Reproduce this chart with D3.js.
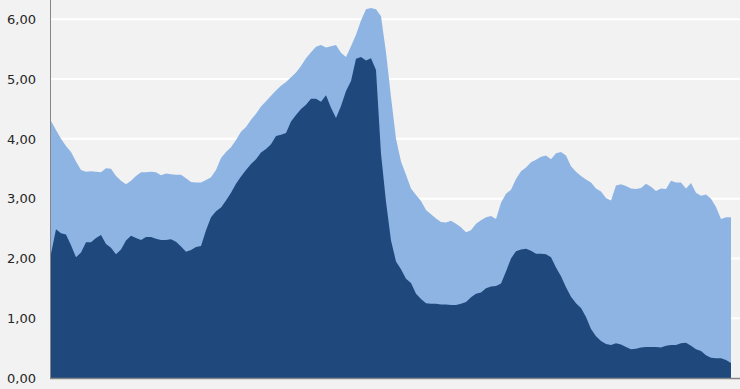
<!DOCTYPE html>
<html lang="en">
<head>
<meta charset="UTF-8">
<title>Area chart</title>
<script src="https://d3js.org/d3.v7.min.js"></script>
<style>
    html, body { margin: 0; padding: 0; background: #f2f2f2; }
    svg { display: block; }
</style>
</head>
<body>
<div id="chart"></div>
<script>
    // light series (upper area), one value per period
    var lightValues = [
        4.30, 4.15, 4.00, 3.88, 3.78, 3.62, 3.48, 3.45, 3.46, 3.45,
        3.44, 3.51, 3.50, 3.38, 3.30, 3.24, 3.30, 3.38, 3.44, 3.44,
        3.45, 3.44, 3.39, 3.42, 3.41, 3.40, 3.40, 3.34, 3.28, 3.27,
        3.27, 3.31, 3.36, 3.48, 3.68, 3.78, 3.86, 3.98, 4.12, 4.20,
        4.32, 4.42, 4.54, 4.63, 4.72, 4.81, 4.89, 4.95, 5.03, 5.11,
        5.22, 5.35, 5.45, 5.54, 5.57, 5.53, 5.55, 5.57, 5.44, 5.37,
        5.55, 5.74, 5.98, 6.17, 6.19, 6.17, 6.05, 5.45, 4.70, 4.00,
        3.62, 3.40, 3.17, 3.06, 2.96, 2.81, 2.74, 2.67, 2.61, 2.60,
        2.63, 2.58, 2.52, 2.44, 2.47, 2.58, 2.64, 2.69, 2.71, 2.66,
        2.93, 3.08, 3.15, 3.33, 3.46, 3.52, 3.61, 3.65, 3.70, 3.72,
        3.66, 3.76, 3.78, 3.72, 3.54, 3.45, 3.38, 3.32, 3.27, 3.17,
        3.12, 3.01, 2.97, 3.22, 3.24, 3.21, 3.17, 3.16, 3.18, 3.25,
        3.20, 3.13, 3.17, 3.16, 3.30, 3.27, 3.27, 3.17, 3.26, 3.10,
        3.05, 3.07, 3.00, 2.86, 2.66, 2.69, 2.69
    ];

    // dark series (lower area)
    var darkValues = [
        2.08, 2.49, 2.42, 2.40, 2.22, 2.02, 2.10, 2.27, 2.27, 2.34,
        2.39, 2.24, 2.18, 2.07, 2.15, 2.30, 2.38, 2.34, 2.31, 2.36,
        2.36, 2.33, 2.31, 2.31, 2.32, 2.28, 2.20, 2.11, 2.14, 2.19,
        2.21, 2.47, 2.69, 2.79, 2.85, 2.97, 3.10, 3.25, 3.37, 3.48,
        3.58, 3.66, 3.77, 3.83, 3.91, 4.05, 4.07, 4.10, 4.29, 4.40,
        4.50, 4.57, 4.67, 4.67, 4.62, 4.73, 4.52, 4.35, 4.55, 4.80,
        4.97, 5.34, 5.37, 5.31, 5.35, 5.15, 3.75, 2.95, 2.30, 1.95,
        1.82, 1.66, 1.59, 1.41, 1.32, 1.25, 1.24, 1.24, 1.23, 1.23,
        1.22, 1.22, 1.24, 1.27, 1.35, 1.41, 1.43, 1.50, 1.53, 1.54,
        1.58, 1.78, 2.00, 2.12, 2.15, 2.16, 2.13, 2.08, 2.08, 2.07,
        2.02, 1.85, 1.70, 1.52, 1.36, 1.25, 1.17, 1.02, 0.82, 0.70,
        0.62, 0.57, 0.55, 0.58, 0.56, 0.52, 0.48, 0.49, 0.51, 0.52,
        0.52, 0.52, 0.51, 0.54, 0.55, 0.55, 0.58, 0.59, 0.54, 0.48,
        0.45, 0.38, 0.34, 0.33, 0.33, 0.30, 0.25
    ];

    var yTicks = [0, 1, 2, 3, 4, 5, 6];

    var width = 740, height = 389;
    var left = 51, right = 731, bottom = 378;

    var svg = d3.select("#chart").append("svg")
        .attr("width", width)
        .attr("height", height);

    var x = d3.scaleLinear()
        .domain([0, lightValues.length - 1])
        .range([left, right]);

    var y = d3.scaleLinear()
        .domain([0, 6])
        .range([bottom, 19.3]);

    // gridlines
    svg.append("g")
        .selectAll("line")
        .data(yTicks.slice(1))
        .enter()
        .append("line")
        .attr("x1", left)
        .attr("x2", width)
        .attr("y1", function(d) { return y(d); })
        .attr("y2", function(d) { return y(d); })
        .attr("stroke", "#ffffff")
        .attr("stroke-width", 2);

    function areaFor(values) {
        return d3.area()
            .x(function(d, i) { return x(i); })
            .y0(y(0))
            .y1(function(d) { return y(d); })(values);
    }

    svg.append("path")
        .attr("d", areaFor(lightValues))
        .attr("fill", "#8eb4e3");

    svg.append("path")
        .attr("d", areaFor(darkValues))
        .attr("fill", "#1f497d");

    // y axis labels
    var yAxis = d3.axisLeft(y)
        .tickValues(yTicks)
        .tickSize(0)
        .tickPadding(15)
        .tickFormat(function(d) { return d3.format(".2f")(d).replace(".", ","); });

    var yg = svg.append("g")
        .attr("transform", "translate(" + left + ",0)")
        .call(yAxis);
    yg.select(".domain").remove();
    yg.selectAll("text")
        .attr("font-family", "'DejaVu Sans', Verdana, sans-serif")
        .attr("font-size", 13)
        .attr("fill", "#262626");

    // axis lines
    svg.append("line")
        .attr("x1", 50.5).attr("x2", 50.5)
        .attr("y1", 0).attr("y2", bottom)
        .attr("stroke", "#868686")
        .attr("stroke-width", 1);

    svg.append("line")
        .attr("x1", 50).attr("x2", width)
        .attr("y1", bottom + 0.5).attr("y2", bottom + 0.5)
        .attr("stroke", "#868686")
        .attr("stroke-width", 1.5);
</script>
</body>
</html>
